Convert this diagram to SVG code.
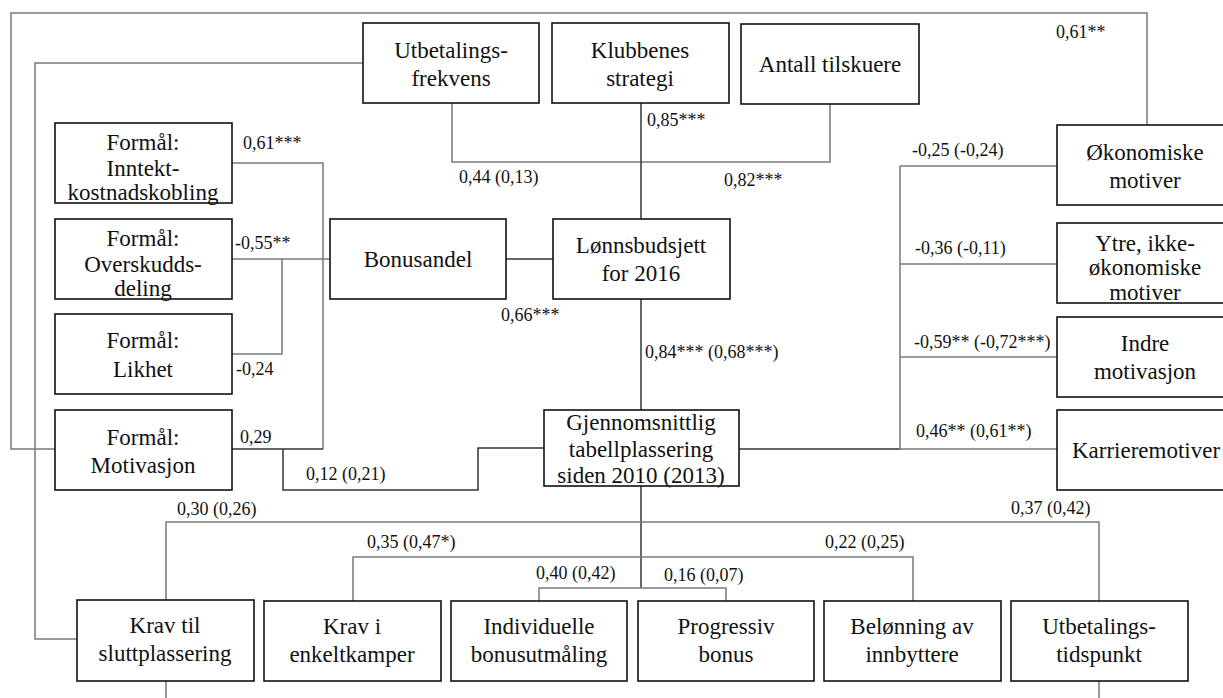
<svg xmlns="http://www.w3.org/2000/svg" width="1223" height="698" viewBox="0 0 1223 698">
<style>
.box{fill:#fff;stroke:#111;stroke-width:1.6}
.t{font-family:"Liberation Serif","Times New Roman",serif;font-size:23px;fill:#111;text-anchor:middle}
.l{font-family:"Liberation Serif","Times New Roman",serif;font-size:18px;fill:#111}
.c{fill:none;stroke:#7a7a7a;stroke-width:1.5}
.d{fill:none;stroke:#333;stroke-width:1.5}
</style>
<rect width="1223" height="698" fill="#fff"/>
<g id="connectors">
<path class="c" d="M1147,125 V13 H11 V449 H55"/>
<path class="c" d="M363,63 H35 V639 H77"/>
<path class="c" d="M452,103 V162 H830 V104"/>
<path class="d" d="M641,103 V219"/>
<path class="c" d="M232,163 H323 V449"/>
<path class="d" d="M232,449 H323"/>
<path class="d" d="M283,449 V490 H478 V448 H544"/>
<path class="c" d="M232,259 H330"/>
<path class="c" d="M232,354 H282 V259"/>
<path class="d" d="M506,259 H553"/>
<path class="d" d="M641,299 V410"/>
<path class="d" d="M739,449 H900" stroke-width="2"/>
<path class="c" d="M900,449 H1057 M900,166 V449 M900,166 H1057 M900,264 H1057 M900,357 H1057"/>
<path class="d" d="M641,486 V588"/>
<path class="c" d="M539,601 V588 H726 V601"/>
<path class="c" d="M353,601 V557 H913 V601"/>
<path class="c" d="M166,600 V522 H1099 V601"/>
<path class="c" d="M166,681 V698 M1099,681 V698"/>
</g>
<g id="labels">
<text class="l" x="1056" y="38">0,61**</text>
<text class="l" x="243" y="149">0,61***</text>
<text class="l" x="647" y="126">0,85***</text>
<text class="l" x="459" y="183">0,44 (0,13)</text>
<text class="l" x="724" y="186">0,82***</text>
<text class="l" x="912" y="156">-0,25 (-0,24)</text>
<text class="l" x="235" y="249">-0,55**</text>
<text class="l" x="236" y="375">-0,24</text>
<text class="l" x="240" y="443">0,29</text>
<text class="l" x="306" y="480">0,12 (0,21)</text>
<text class="l" x="501" y="321">0,66***</text>
<text class="l" x="645" y="358">0,84*** (0,68***)</text>
<text class="l" x="915" y="254">-0,36 (-0,11)</text>
<text class="l" x="914" y="348">-0,59** (-0,72***)</text>
<text class="l" x="916" y="437">0,46** (0,61**)</text>
<text class="l" x="177" y="515">0,30 (0,26)</text>
<text class="l" x="367" y="548">0,35 (0,47*)</text>
<text class="l" x="536" y="579">0,40 (0,42)</text>
<text class="l" x="664" y="581">0,16 (0,07)</text>
<text class="l" x="825" y="548">0,22 (0,25)</text>
<text class="l" x="1011" y="514">0,37 (0,42)</text>
</g>
<g id="utbetalingsfrekvens"><rect class="box" x="363" y="23" width="176" height="80"/><text class="t" x="451" y="58">Utbetalings-</text><text class="t" x="451" y="86">frekvens</text></g>
<g id="klubbenes"><rect class="box" x="552" y="23" width="177" height="80"/><text class="t" x="640" y="58">Klubbenes</text><text class="t" x="640" y="86">strategi</text></g>
<g id="tilskuere"><rect class="box" x="741" y="24" width="178" height="80"/><text class="t" x="830" y="72">Antall tilskuere</text></g>
<g id="okonomiske"><rect class="box" x="1057" y="125" width="177" height="80"/><text class="t" x="1145" y="160">Økonomiske</text><text class="t" x="1145" y="188">motiver</text></g>
<g id="ytre"><rect class="box" x="1057" y="223" width="177" height="80"/><text class="t" x="1145" y="251">Ytre, ikke-</text><text class="t" x="1145" y="275">økonomiske</text><text class="t" x="1145" y="300">motiver</text></g>
<g id="indre"><rect class="box" x="1057" y="317" width="177" height="80"/><text class="t" x="1145" y="351">Indre</text><text class="t" x="1145" y="379">motivasjon</text></g>
<g id="karriere"><rect class="box" x="1057" y="410" width="177" height="80"/><text class="t" x="1146" y="458">Karrieremotiver</text></g>
<g id="inntekt"><rect class="box" x="55" y="123" width="177" height="80"/><text class="t" x="143" y="150">Formål:</text><text class="t" x="143" y="176">Inntekt-</text><text class="t" x="143" y="200">kostnadskobling</text></g>
<g id="overskudd"><rect class="box" x="55" y="219" width="177" height="80"/><text class="t" x="143" y="246">Formål:</text><text class="t" x="143" y="272">Overskudds-</text><text class="t" x="143" y="296">deling</text></g>
<g id="likhet"><rect class="box" x="55" y="314" width="177" height="80"/><text class="t" x="143" y="348">Formål:</text><text class="t" x="143" y="377">Likhet</text></g>
<g id="motivasjon"><rect class="box" x="55" y="410" width="177" height="80"/><text class="t" x="143" y="445">Formål:</text><text class="t" x="143" y="473">Motivasjon</text></g>
<g id="bonusandel"><rect class="box" x="330" y="219" width="176" height="80"/><text class="t" x="418" y="267">Bonusandel</text></g>
<g id="lonnsbudsjett"><rect class="box" x="553" y="219" width="177" height="80"/><text class="t" x="641" y="253">Lønnsbudsjett</text><text class="t" x="641" y="281">for 2016</text></g>
<g id="tabellplassering"><rect class="box" x="544" y="410" width="195" height="76"/><text class="t" x="641" y="430">Gjennomsnittlig</text><text class="t" x="641" y="457">tabellplassering</text><text class="t" x="641" y="483">siden 2010 (2013)</text></g>
<g id="sluttplassering"><rect class="box" x="77" y="600" width="177" height="81"/><text class="t" x="165" y="633">Krav til</text><text class="t" x="165" y="661">sluttplassering</text></g>
<g id="enkeltkamper"><rect class="box" x="264" y="601" width="177" height="80"/><text class="t" x="352" y="634">Krav i</text><text class="t" x="352" y="662">enkeltkamper</text></g>
<g id="individuelle"><rect class="box" x="451" y="601" width="176" height="80"/><text class="t" x="539" y="634">Individuelle</text><text class="t" x="539" y="662">bonusutmåling</text></g>
<g id="progressiv"><rect class="box" x="638" y="601" width="176" height="80"/><text class="t" x="726" y="634">Progressiv</text><text class="t" x="726" y="662">bonus</text></g>
<g id="innbyttere"><rect class="box" x="824" y="601" width="177" height="80"/><text class="t" x="912" y="634">Belønning av</text><text class="t" x="912" y="662">innbyttere</text></g>
<g id="tidspunkt"><rect class="box" x="1011" y="601" width="177" height="80"/><text class="t" x="1099" y="634">Utbetalings-</text><text class="t" x="1099" y="662">tidspunkt</text></g>
</svg>
